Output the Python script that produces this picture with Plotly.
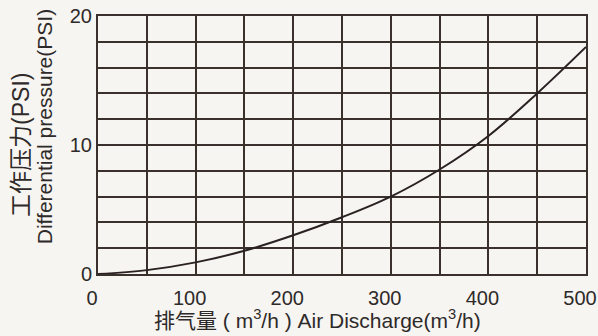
import plotly.graph_objects as go

# Air discharge (m3/h) vs differential pressure (PSI)
flow = [0, 50, 100, 150, 200, 250, 300, 350, 400, 450, 500]
pressure = [0, 0.3, 0.9, 1.8, 3.0, 4.4, 6.0, 8.1, 10.7, 14.0, 17.6]

x_ticks = [0, 100, 200, 300, 400, 500]
y_ticks = [0, 10, 20]

ink = "#3a302c"
text_col = "#2e2a2a"
bg = "#f7f5f1"
font_family = "Liberation Sans, Arial, Noto Sans CJK SC, sans-serif"

fig = go.Figure()
fig.add_trace(go.Scatter(
    x=flow, y=pressure, mode="lines",
    line=dict(color="#2a2222", width=2, shape="spline", smoothing=1.0),
    hoverinfo="skip", showlegend=False,
))

axis_common = dict(
    showgrid=True, gridcolor=ink, gridwidth=2,
    showline=True, linecolor=ink, linewidth=2, mirror=True,
    zeroline=False, ticks="", automargin=False,
    tickfont=dict(size=20, color=text_col, family=font_family),
    ticklabeloverflow="allow",
)

fig.update_xaxes(
    range=[0, 500], tickvals=x_ticks, ticktext=[str(v) for v in x_ticks],
    minor=dict(dtick=50, showgrid=True, gridcolor=ink, gridwidth=2),
    ticklabelstandoff=5, ticklabelshift=-6,
    **axis_common,
)
fig.update_yaxes(
    range=[0, 20], tickvals=y_ticks, ticktext=[str(v) for v in y_ticks],
    minor=dict(dtick=2, showgrid=True, gridcolor=ink, gridwidth=2),
    ticklabelstandoff=0,
    **axis_common,
)

annotations = [
    dict(text="排气量 ( m<sup>3</sup>/h ) Air Discharge(m<sup>3</sup>/h)",
         xref="paper", yref="paper", x=0.45, y=-0.175,
         xanchor="center", yanchor="middle", showarrow=False,
         font=dict(size=21, color=text_col, family=font_family)),
    dict(text="工作压力(PSI)", xref="paper", yref="paper",
         x=-0.158, y=0.5, xanchor="center", yanchor="middle", textangle=-90,
         showarrow=False,
         font=dict(size=23, color=text_col, family=font_family)),
    dict(text="Differential pressure(PSI)", xref="paper", yref="paper",
         x=-0.108, y=0.57, xanchor="center", yanchor="middle", textangle=-90,
         showarrow=False,
         font=dict(size=21, color=text_col, family=font_family)),
]

fig.update_layout(
    width=598, height=336,
    margin=dict(l=98, r=12, t=16, b=62),
    paper_bgcolor=bg, plot_bgcolor=bg,
    font=dict(family=font_family, color=text_col),
    annotations=annotations,
)

fig.write_html("out.html")
